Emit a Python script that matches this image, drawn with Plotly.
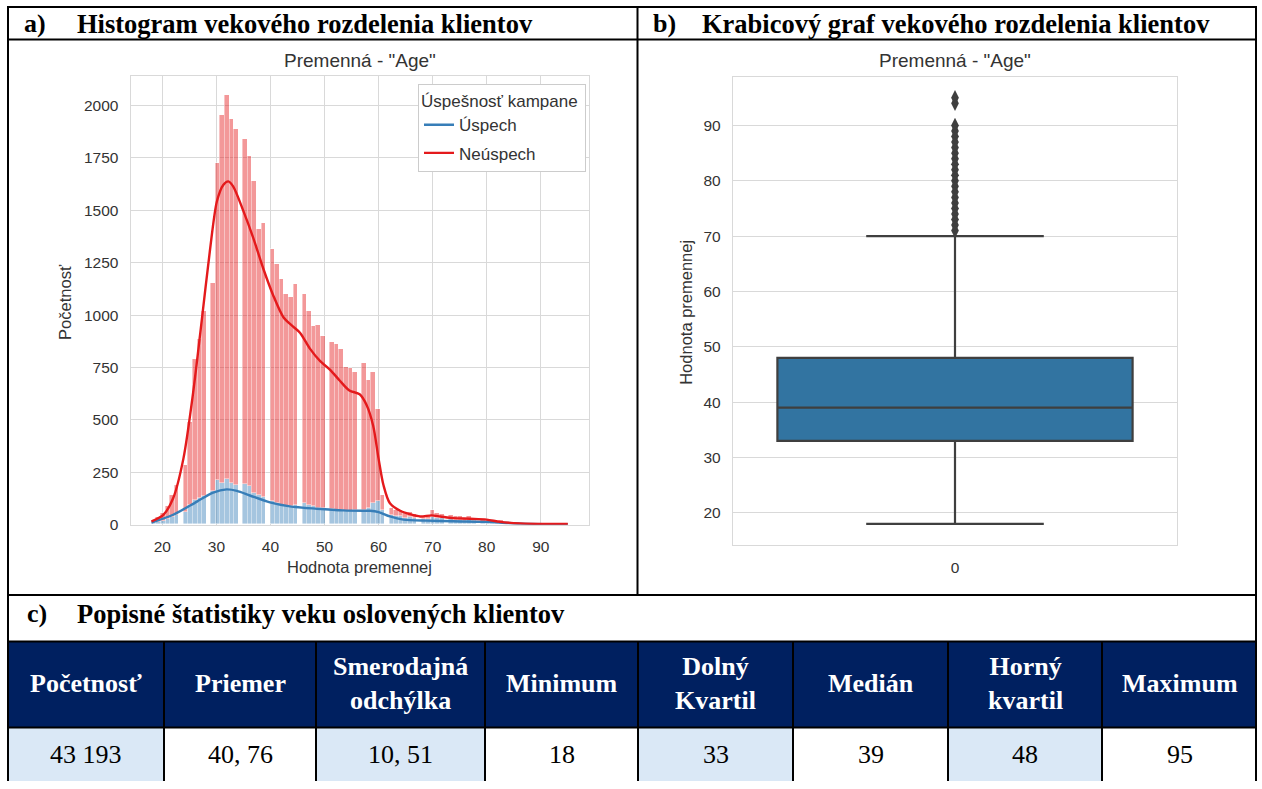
import numpy as np
import plotly.graph_objects as go

W, H = 1262, 789

# ---------------- data ----------------
ages = [18, 19, 20, 21, 22, 23, 24, 25, 26, 27, 28, 29, 30, 31, 32, 33, 34, 35, 36, 37,
        38, 39, 40, 41, 42, 43, 44, 45, 46, 47, 48, 49, 50, 51, 52, 53, 54, 55, 56, 57,
        58, 59, 60, 61, 62, 63, 64, 65, 66, 67, 68, 69, 70, 71, 72, 73, 74, 75, 76, 77,
        78, 79, 80, 81, 82, 83, 84, 85, 86, 87, 88, 89, 90, 91, 92, 93, 94, 95]
uspech = [5, 10, 15, 25, 35, 45, 60, 95, 115, 125, 135, 160, 210, 200, 215, 200, 190, 195, 185, 150,
          140, 130, 110, 100, 95, 90, 90, 95, 100, 95, 90, 80, 80, 75, 70, 70, 65, 65, 70, 70,
          80, 100, 110, 70, 45, 40, 40, 30, 35, 30, 25, 25, 35, 30, 30, 25, 20, 20, 18, 20,
          15, 12, 15, 8, 10, 10, 5, 3, 4, 2, 1, 1, 1, 0, 1, 1, 0, 1]
neuspech = [15, 25, 40, 65, 105, 145, 223, 395, 675, 759, 885, 990, 1514, 1753, 1832, 1737, 1695, 1645, 1571, 1488,
            1269, 1308, 1205, 1141, 1075, 1012, 997, 1051, 1002, 924, 858, 873, 817, 797, 793, 765, 686, 683, 659, 699,
            609, 629, 441, 68, 35, 30, 28, 25, 23, 20, 15, 17, 35, 25, 20, 20, 20, 18, 14, 18,
            15, 13, 13, 10, 8, 10, 5, 3, 4, 2, 1, 2, 1, 0, 1, 1, 1, 1]

kde_neuspech_x = [18, 20.2, 22, 23.9, 25.7, 27.3, 28.8, 30.1, 31.3, 32.2, 33.1, 35, 36.8, 38.7, 40.5,
                  42.4, 44.2, 45.5, 47.3, 49.2, 51, 52.8, 54.6, 56.5, 57.8, 59, 60, 60.9, 62.1, 64,
                  65.8, 67.7, 69.8, 71.4, 73.8, 76.9, 80, 82.5, 86.2, 91.1, 95]
kde_neuspech_y = [16, 47, 126, 315, 630, 976, 1307, 1543, 1622, 1638, 1614, 1496, 1370, 1220, 1095,
                  990, 945, 915, 840, 780, 740, 688, 640, 622, 570, 472, 315, 189, 102, 66,
                  50, 39, 44, 39, 31, 28, 24, 13, 6, 3, 3]
kde_uspech_x = [18, 22, 26.4, 29.4, 31.9, 33.8, 36.2, 39.9, 43.6, 48.6, 53.5, 57.2, 58.4, 60, 62.1,
                64.6, 68.9, 73.8, 80, 86.2, 95]
kde_uspech_y = [10, 47, 110, 153, 168, 161, 139, 106, 87, 76, 68, 66, 66, 60, 39,
                24, 19, 16, 13, 5, 2]

box_q1 = 33
box_median = 39
box_q3 = 48
box_lower = 18
box_upper = 70
box_outliers = [71, 72, 73, 74, 75, 76, 77, 78, 79, 80, 81, 82, 83, 84, 85, 86, 87, 88, 89, 90, 94, 95]

hist_xticks = [20, 30, 40, 50, 60, 70, 80, 90]
hist_yticks = [0, 250, 500, 750, 1000, 1250, 1500, 1750, 2000]
box_yticks = [20, 30, 40, 50, 60, 70, 80, 90]

section_letters = ["a)", "b)", "c)"]
section_titles = ["Histogram vekového rozdelenia klientov",
                  "Krabicový graf vekového rozdelenia klientov",
                  "Popisné štatistiky veku oslovených klientov"]
chart_title = 'Premenná - "Age"'
x_axis_title = "Hodnota premennej"
hist_y_title = "Početnosť"
legend_title = "Úspešnosť kampane"
series_names = ["Úspech", "Neúspech"]

table_headers = ["Početnosť", "Priemer", "Smerodajná<br>odchýlka", "Minimum",
                 "Dolný<br>Kvartil", "Medián", "Horný<br>kvartil", "Maximum"]
table_values = ["43 193", "40, 76", "10, 51", "18", "33", "39", "48", "95"]

# ---------------- helpers ----------------
def px(x):
    return x / W


def py(y):
    return 1 - y / H


SERIF = "Liberation Serif"
SANS = "Liberation Sans"
BLUE = "#377eb8"
RED = "#e41a1c"
GRID = "#d9d9d9"
TXT = "#333333"
NAVY = "#002060"
LIGHT = "#dae8f6"

# histogram bins (seaborn auto bins over data range)
age_min, age_max, n_bins = 18, 95, 91
bw = (age_max - age_min) / n_bins
idx = np.minimum(np.floor((np.array(ages) - age_min) / bw + 1e-9), n_bins - 1)
bin_centers = age_min + bw * (idx + 0.5)

fig = go.Figure()

fig.add_trace(go.Bar(x=bin_centers, y=uspech, width=bw, xaxis="x", yaxis="y",
                     marker=dict(color="rgba(55,126,184,0.45)",
                                 line=dict(color="rgba(255,255,255,0.7)", width=0.6)),
                     showlegend=False, hoverinfo="skip"))
fig.add_trace(go.Bar(x=bin_centers, y=neuspech, width=bw, xaxis="x", yaxis="y",
                     marker=dict(color="rgba(228,26,28,0.45)",
                                 line=dict(color="rgba(255,255,255,0.7)", width=0.6)),
                     showlegend=False, hoverinfo="skip"))
fig.add_trace(go.Scatter(x=kde_uspech_x, y=kde_uspech_y, mode="lines", name=series_names[0],
                         line=dict(color=BLUE, width=2.4, shape="spline", smoothing=0.8),
                         xaxis="x", yaxis="y", legendgroup="u"))
fig.add_trace(go.Scatter(x=kde_neuspech_x, y=kde_neuspech_y, mode="lines", name=series_names[1],
                         line=dict(color=RED, width=2.4, shape="spline", smoothing=0.8),
                         xaxis="x", yaxis="y", legendgroup="n"))

# box plot
fig.add_trace(go.Box(x=[0], q1=[box_q1], median=[box_median], q3=[box_q3],
                     lowerfence=[box_lower], upperfence=[box_upper],
                     width=0.8, whiskerwidth=0.5, boxpoints=False,
                     fillcolor="#3274a1", line=dict(color="#3f3f3f", width=2.2),
                     xaxis="x2", yaxis="y2", showlegend=False, hoverinfo="skip"))
fig.add_trace(go.Scatter(x=[0] * len(box_outliers), y=box_outliers, mode="markers",
                         marker=dict(symbol="diamond-tall", size=11, color="#3f3f3f"),
                         xaxis="x2", yaxis="y2", showlegend=False, hoverinfo="skip"))

axis_common = dict(showline=True, mirror=True, linecolor=GRID, linewidth=1.3,
                   gridcolor=GRID, gridwidth=1.3, zeroline=False, ticks="",
                   tickfont=dict(family=SANS, size=15.5, color=TXT), ticklabelstandoff=8)

fig.update_layout(
    width=W, height=H, margin=dict(l=0, r=0, t=0, b=0),
    paper_bgcolor="white", plot_bgcolor="white",
    barmode="stack", bargap=0,
    xaxis=dict(domain=[px(130.7), px(588.6)], range=[14.15, 98.85], tickvals=hist_xticks,
               anchor="y", showgrid=True, **axis_common),
    yaxis=dict(domain=[py(530), py(77)], range=[0, 2140], tickvals=hist_yticks,
               anchor="x", showgrid=True, **axis_common),
    xaxis2=dict(domain=[px(733), px(1177)], range=[-0.5, 0.5], tickvals=[0], ticktext=["0"],
                anchor="y2", showgrid=False, **axis_common),
    yaxis2=dict(domain=[py(550.7), py(77.3)], range=[14.15, 98.85], tickvals=box_yticks,
                anchor="x2", showgrid=True, **axis_common),
    legend=dict(x=px(586), xanchor="right", y=py(85), yanchor="top",
                traceorder="grouped", tracegroupgap=3,
                bgcolor="white", bordercolor="#cccccc", borderwidth=1,
                font=dict(family=SANS, size=17, color=TXT),
                title=dict(text=legend_title + " ", font=dict(family=SANS, size=17, color=TXT))),
    showlegend=True,
)

# ---------------- frame / table shapes ----------------
shapes = []
cols = [8, 164, 316, 485, 638, 793, 948, 1102, 1257]
shapes.append(dict(type="rect", xref="paper", yref="paper", x0=px(8), x1=px(1257),
                   y0=py(735), y1=py(648), fillcolor=NAVY, line=dict(width=0)))
for i in range(8):
    if i % 2 == 0:
        shapes.append(dict(type="rect", xref="paper", yref="paper", x0=px(cols[i]), x1=px(cols[i + 1]),
                           y0=py(789), y1=py(735), fillcolor=LIGHT, line=dict(width=0)))


def hline(y, x0, x1):
    shapes.append(dict(type="line", xref="paper", yref="paper", x0=px(x0), x1=px(x1),
                       y0=py(y), y1=py(y), line=dict(color="black", width=2)))


def vline(x, y0, y1):
    shapes.append(dict(type="line", xref="paper", yref="paper", x0=px(x), x1=px(x),
                       y0=py(y0), y1=py(y1), line=dict(color="black", width=2)))


hline(7, 7, 1257)
hline(40, 8, 1256)
hline(601, 8, 1256)
hline(648, 8, 1256)
hline(735, 8, 1256)
vline(8, 6, 789)
vline(1256, 6, 789)
vline(637.5, 7, 601)
for c in cols[1:-1]:
    vline(c, 648, 789)

fig.update_layout(shapes=shapes)

# ---------------- text ----------------
ann = []


def text(x, y, s, size, family=SERIF, color="black", bold=False, xanchor="center", angle=0):
    ann.append(dict(x=px(x), y=py(y), xref="paper", yref="paper", text=("<b>%s</b>" % s) if bold else s,
                    showarrow=False, xanchor=xanchor, yanchor="middle", textangle=angle,
                    font=dict(family=family, size=size, color=color)))


letter_pos = [(22, 24), (651, 24), (25, 620)]
title_pos = [(75, 24), (700, 24), (75, 620)]
for (lx, ly), (tx, ty), l, t in zip(letter_pos, title_pos, section_letters, section_titles):
    text(lx, ly, l, 26, bold=True, xanchor="left")
    text(tx, ty, t, 26.5, bold=True, xanchor="left")

text(359.6, 61, chart_title, 19, family=SANS, color=TXT)
text(955, 61, chart_title, 19, family=SANS, color=TXT)
text(359.6, 573, x_axis_title, 16.5, family=SANS, color=TXT)
text(65, 305, hist_y_title, 16.5, family=SANS, color=TXT, angle=-90)
text(686, 316, x_axis_title, 16.5, family=SANS, color=TXT, angle=-90)

for i in range(8):
    cx = (cols[i] + cols[i + 1]) / 2
    text(cx, 691, table_headers[i], 26, color="white", bold=True)
    text(cx, 762, table_values[i], 26)

fig.update_layout(annotations=ann)

fig.write_html("out.html")
